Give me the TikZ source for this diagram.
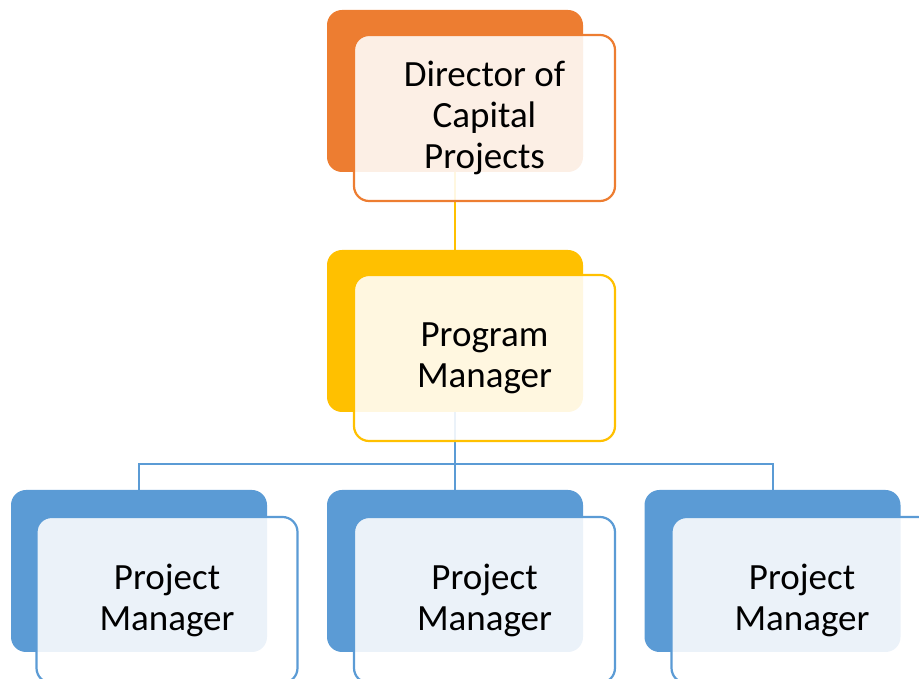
\documentclass[tikz,border=0pt]{standalone}
\usepackage{fontspec}
\setmainfont{Carlito}
\definecolor{orgfill}{HTML}{ED7D31}
\definecolor{goldfill}{HTML}{FFC000}
\definecolor{bluefill}{HTML}{5B9BD5}
\tikzset{
  backbox/.style={rectangle,rounded corners=15pt,fill=#1,draw=none,
    minimum width=256pt,minimum height=162pt,inner sep=0pt},
  frontbox/.style={rectangle,rounded corners=15pt,draw=#1,line width=2.2pt,
    fill=white,fill opacity=0.88,text opacity=1,
    minimum width=261pt,minimum height=166pt,inner sep=0pt,align=center,
    font=\fontsize{37}{41}\selectfont},
  link/.style={line width=2pt,draw=#1}
}
\begin{document}
\begin{tikzpicture}[x=1pt,y=1pt]
\useasboundingbox (0,0) rectangle (919,679);
% coloured back plates
\node[backbox=orgfill] (dirB) at (455,588) {};
\node[backbox=goldfill] (progB) at (455,348) {};
\node[backbox=bluefill] (pmaB) at (139,108) {};
\node[backbox=bluefill] (pmbB) at (455,108) {};
\node[backbox=bluefill] (pmcB) at (772.5,108) {};
% reporting lines
\coordinate (bar) at (455,215);
\draw[link=goldfill] (dirB.south) -- (progB.north);
\draw[link=bluefill] (progB.south) -- (bar);
\draw[link=bluefill] (bar) -| (pmaB.north);
\draw[link=bluefill] (bar) -- (pmbB.north);
\draw[link=bluefill] (bar) -| (pmcB.north);
% labelled front cards
\node[frontbox=orgfill] (dir) at (484.5,561) {Director of\\Capital\\Projects};
\node[frontbox=goldfill] (prog) at (484.5,321) {Program\\Manager};
\node[frontbox=bluefill] (pma) at (167,79) {Project\\Manager};
\node[frontbox=bluefill] (pmb) at (484.5,79) {Project\\Manager};
\node[frontbox=bluefill] (pmc) at (802,79) {Project\\Manager};
\end{tikzpicture}
\end{document}
